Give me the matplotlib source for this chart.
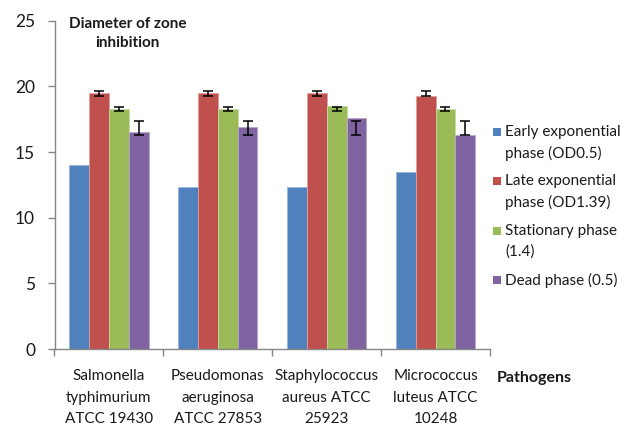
import matplotlib
matplotlib.use("Agg")
import matplotlib.pyplot as plt
from matplotlib.patches import Rectangle
import numpy as np

plt.rcParams['font.family'] = ['Lato', 'DejaVu Sans']

categories = ["Salmonella\ntyphimurium\nATCC 19430",
              "Pseudomonas\naeruginosa\nATCC 27853",
              "Staphylococcus\naureus ATCC\n25923",
              "Micrococcus\nluteus ATCC\n10248"]
series_names = ["Early exponential\nphase (OD0.5)",
                "Late exponential\nphase (OD1.39)",
                "Stationary phase\n(1.4)",
                "Dead phase (0.5)"]
early = [14.0, 12.3, 12.3, 13.5]
late = [19.5, 19.5, 19.5, 19.3]
stationary = [18.3, 18.3, 18.5, 18.3]
dead = [16.5, 16.9, 17.6, 16.3]
# error bars (centre, half-width) as drawn in the source
late_err_mid = [19.47, 19.47, 19.47, 19.47]
late_err = [0.2, 0.2, 0.2, 0.2]
stat_err_mid = [18.3, 18.3, 18.3, 18.3]
stat_err = [0.14, 0.14, 0.14, 0.14]
dead_err_mid = [16.84, 16.84, 16.84, 16.84]
dead_err = [0.56, 0.56, 0.56, 0.56]
yticks = [0, 5, 10, 15, 20, 25]

colors = ["#4F81BD", "#C0504D", "#9BBB59", "#8064A2"]
edges = ["#9DB7DB", "#DDA09E", "#C6D9A6", "#B6A6CC"]

W, H = 628, 426
fig = plt.figure(figsize=(W / 100, H / 100), dpi=100)
ax = fig.add_axes([54.5 / W, 1 - 349 / H, (490 - 54.5) / W, (349 - 20.7) / H])

x = np.arange(len(categories))
bw = 0.182
values = [early, late, stationary, dead]
for i, (vals, c, ec) in enumerate(zip(values, colors, edges)):
    ax.bar(x + (i - 1.5) * bw, vals, width=bw, color=c, edgecolor=ec,
           linewidth=0.6, zorder=2)

for i, (mid, err) in [(1, (late_err_mid, late_err)),
                      (2, (stat_err_mid, stat_err)),
                      (3, (dead_err_mid, dead_err))]:
    ax.errorbar(x + (i - 1.5) * bw, mid, yerr=err, fmt='none', ecolor='black',
                elinewidth=1.1, capsize=3.6, capthick=1.1, zorder=3)

ax.set_xlim(-0.5, len(categories) - 0.5)
ax.set_ylim(0, 25)
ax.set_yticks(yticks)
ax.tick_params(axis='y', direction='out', length=5, width=1, color='#868686',
               labelsize=12.5, pad=9, labelcolor='#1a1a1a')

ax.set_xticks(np.arange(len(categories) + 1) - 0.5)
ax.set_xticklabels([])
ax.tick_params(axis='x', which='major', direction='out', length=5, width=1,
               color='#868686')
ax.set_xticks(x, minor=True)
ax.set_xticklabels(categories, minor=True, fontsize=11, color='#1a1a1a',
                   linespacing=1.68)
ax.tick_params(axis='x', which='minor', length=0, pad=14.5)

for s in ['top', 'right']:
    ax.spines[s].set_visible(False)
for s in ['left', 'bottom']:
    ax.spines[s].set_color('#868686')
    ax.spines[s].set_linewidth(1)

fig.text(127.5 / W, 1 - 33.5 / H, "Diameter of zone\ninhibition", ha='center',
         va='center', fontsize=11, fontweight='bold', color='#1a1a1a',
         linespacing=1.45)
fig.text(497 / W, 1 - 378 / H, "Pathogens", ha='left', va='center',
         fontsize=11.5, fontweight='bold', color='#1a1a1a')

# legend
line_y = [(131.7, 153.2), (181.0, 202.5), (230.5, 252.0), (280.0,)]
for name, c, ys in zip(series_names, colors, line_y):
    fig.patches.append(Rectangle((492.7 / W, 1 - (ys[0] + 4) / H), 8 / W, 8 / H,
                                 transform=fig.transFigure, facecolor=c,
                                 edgecolor='none'))
    for line, yy in zip(name.split("\n"), ys):
        fig.text(505 / W, 1 - yy / H, line, ha='left', va='center',
                 fontsize=11, color='#1a1a1a')

fig.savefig("out.png", dpi=100)
